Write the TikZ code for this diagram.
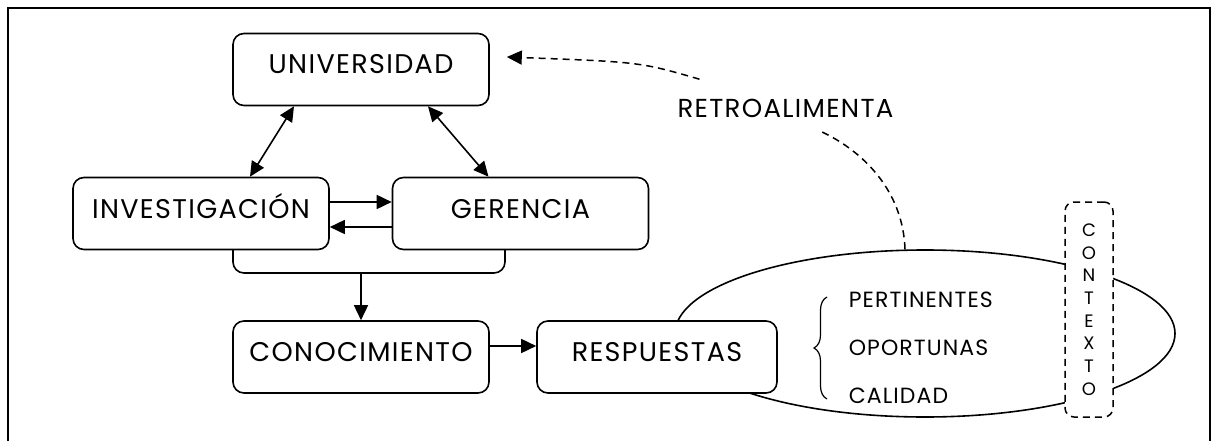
\documentclass[tikz,border=0pt]{standalone}
\usepackage{fontspec}
\setmainfont{Poppins}[LetterSpace=5]
\usepackage{tikz}
\usetikzlibrary{arrows.meta,positioning}
\usetikzlibrary{shapes.geometric,backgrounds}
\usetikzlibrary{decorations.pathreplacing}

\tikzset{
  caja/.style={draw, rounded corners=11pt, fill=white, line width=1.6pt,
    minimum width=256pt, minimum height=72pt, text height=19pt, text depth=10pt,
    font=\fontsize{27}{32}\selectfont},
  punteada/.style={dashed, dash pattern=on 7pt off 5pt, line width=1.5pt},
  lista/.style={anchor=west, inner sep=0pt, font=\fontsize{22}{26}\selectfont}
}

\begin{document}
\begin{tikzpicture}[x=1pt, y=-1pt, >={Triangle[length=15pt,width=14pt]},
    line width=1.6pt, node distance=3cm, on grid]
  \useasboundingbox (0,0) rectangle (1218,441);
  \draw (8,441) -- (8,8) -- (1210,8) -- (1210,441);

  \node[caja] (univ) at (361,69.5) {UNIVERSIDAD};
  \node[caja] (inv) [below left=144pt and 160pt of univ] {INVESTIGACIÓN};
  \node[caja] (ger) [right=319.5pt of inv] {GERENCIA};
  \node[caja] (conoc) [below=287.5pt of univ] {CONOCIMIENTO};
  \node[caja, minimum width=240pt] (resp) [right=296pt of conoc] {RESPUESTAS};

  % contexto de las respuestas
  \begin{scope}[on background layer]
    \node[draw, ellipse, line width=1.6pt, minimum width=500pt, minimum height=167pt]
      (elip) [above right=23.5pt and 268pt of resp] {};
  \end{scope}
  \node[draw, punteada, rounded corners=9pt, fill=white, minimum width=48pt,
    minimum height=215pt, align=center, font=\fontsize{18}{22.7}\selectfont]
    (ctx) [above right=24pt and 164pt of elip] {C\\O\\N\\T\\E\\X\\T\\O};

  \node[lista] (pert) at (848,300) {PERTINENTES};
  \node[lista] (opor) at (848,348) {OPORTUNAS};
  \node[lista] (cal) at (848,396) {CALIDAD};
  \draw[line width=1.2pt, decorate, decoration={brace, amplitude=13pt}]
    ([xshift=-21pt,yshift=-3pt]cal.west) -- ([xshift=-21pt,yshift=3pt]pert.west);

  \node[inner sep=0pt, minimum height=42pt, text height=18pt, text depth=0pt,
    font=\fontsize{26}{30}\selectfont] (retro) at (785.5,109) {RETROALIMENTA};

  \draw[<->] ([xshift=-67pt]univ.south) -- ([xshift=49pt]inv.north);
  \draw[<->] ([xshift=67pt]univ.south) -- ([xshift=-32pt]ger.north);
  \draw[->] ([yshift=11.5pt]inv.east) -- ([yshift=11.5pt]ger.west);
  \draw[->] ([yshift=-13.5pt]ger.west) -- ([yshift=-13.5pt]inv.east);

  \draw[rounded corners=11pt] (233,249) -- (233,273) -- (505,273) -- (505,249);
  \coordinate (union) at (361,273);
  \draw[->] (union) -- (conoc);
  \draw[->] ([yshift=11pt]conoc.east) -- ([yshift=11pt]resp.west);

  \draw[punteada] ([xshift=-20pt]elip.north) .. controls (903,190) and (862,150)
    .. ([xshift=34pt]retro.south);
  \draw[punteada, ->] ([xshift=-86pt,yshift=8pt]retro.north) .. controls (640,62)
    .. ([shift={(17pt,12.5pt)}]univ.east);
\end{tikzpicture}
\end{document}
